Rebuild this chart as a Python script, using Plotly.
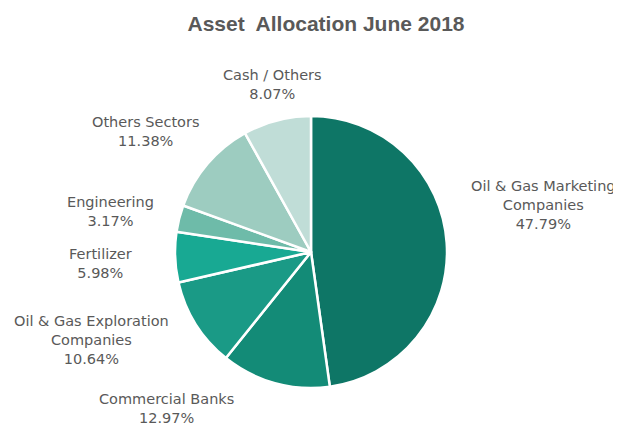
import plotly.graph_objects as go

sectors = ["Oil & Gas Marketing<br>Companies", "Commercial Banks", "Oil & Gas Exploration<br>Companies",
           "Fertilizer", "Engineering", "Others Sectors", "Cash / Others"]
weights = [47.79, 12.97, 10.64, 5.98, 3.17, 11.38, 8.07]
colors = ["#0e7666", "#138b77", "#1a9a86", "#18a993", "#6ebba9", "#9dccc0", "#c0ddd7"]

# label centres in the reference image (pixels)
label_pos = [(543, 205), (166, 408), (91, 340), (100, 264), (110, 211), (146, 131), (272, 85)]

W, H = 621, 425
OFF = 8  # page body margin
cx, cy, r = 311 - OFF, 252 - OFF, 136

fig = go.Figure()
fig.add_trace(go.Pie(
    labels=sectors, values=weights, sort=False, direction="clockwise", rotation=0,
    marker={"colors": colors, "line": {"color": "white", "width": 2.5}},
    textinfo="none", hoverinfo="label+percent", showlegend=False,
    domain={"x": [(cx - r) / W, (cx + r) / W], "y": [1 - (cy + r) / H, 1 - (cy - r) / H]},
))

for name, val, (x, y) in zip(sectors, weights, label_pos):
    fig.add_annotation(
        x=(x - OFF) / W, y=1 - (y - OFF) / H, xref="paper", yref="paper",
        xanchor="center", yanchor="middle",
        text=f"{name}<br>{val:.2f}%", showarrow=False, align="center",
        font={"family": "DejaVu Sans, sans-serif", "size": 14.5, "color": "#595959"},
    )

fig.update_layout(
    title={"text": "<b>Asset  Allocation June 2018</b>", "x": (326 - OFF) / W, "xanchor": "center",
           "y": 1 - (24 - OFF) / H, "yanchor": "middle", "font": {"size": 21, "color": "#595959"}},
    width=W, height=H,
    margin={"l": 0, "r": 0, "t": 0, "b": 0},
    font={"family": "Liberation Sans, Arial, sans-serif", "color": "#595959"},
    paper_bgcolor="white", plot_bgcolor="white",
)

fig.write_html("out.html")
